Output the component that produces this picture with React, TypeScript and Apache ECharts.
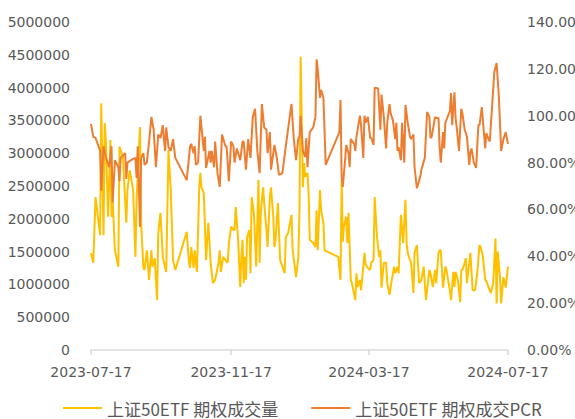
import React, { useEffect, useRef } from "react";
import * as echarts from "echarts";

// Dates are stored as day offsets from 2023-07-17 (the first date on the axis)
const startDate = [2023, 6, 17];
const axisEndDay = 366;
const xTickLabels = ["2023-07-17", "2023-11-17", "2024-03-17", "2024-07-17"];

const volumeName = "上证50ETF 期权成交量";
const pcrName = "上证50ETF 期权成交PCR";

const volDays = [0,2,4,8,9,11,12,13,15,17,18,19,21,24,25,28,31,32,34,37,39,40,43,44,46,47,49,51,53,54,56,58,59,61,63,66,68,70,72,74,84,86,87,88,90,91,93,95,96,97,99,101,103,105,107,109,112,113,114,116,118,120,121,123,125,126,127,129,131,132,133,134,135,136,137,139,140,141,143,145,147,148,149,151,153,154,155,157,158,160,161,162,164,166,168,170,171,173,176,177,180,182,183,184,186,187,188,190,191,192,195,197,198,199,201,202,204,205,217,219,220,221,222,224,225,226,228,229,232,233,234,236,237,239,240,241,243,245,246,248,249,251,253,254,255,257,259,260,262,263,264,266,267,269,270,271,272,274,276,277,278,280,281,283,284,286,288,290,292,294,297,298,300,302,303,305,306,307,309,311,312,313,315,316,318,319,320,322,324,325,326,328,329,330,333,334,335,337,339,341,342,344,346,347,348,350,351,353,355,356,357,359,360,362,363,364,366];
const volValues = [1480000,1330000,2330000,1750000,3760000,1750000,3460000,3200000,2030000,3200000,2030000,2290000,1520000,1270000,3100000,2940000,1940000,2440000,2740000,2440000,1420000,2290000,3400000,1940000,1250000,1220000,1520000,1070000,1520000,1270000,1400000,760000,1780000,2090000,1420000,1190000,3050000,2440000,1370000,1220000,1800000,1330000,1250000,1570000,1250000,1520000,1190000,2480000,2700000,2480000,2390000,1370000,1940000,1330000,1020000,1070000,1330000,1520000,1190000,1420000,1370000,1330000,1630000,1880000,1830000,1830000,2180000,1720000,960000,1420000,1680000,1020000,1420000,1070000,1720000,1830000,1170000,2330000,2090000,1270000,2590000,1330000,2090000,2480000,2030000,1830000,1570000,2330000,2480000,2030000,1570000,1680000,2240000,1370000,1270000,1170000,1720000,1780000,2060000,1520000,1110000,1420000,2130000,4470000,2480000,2850000,2640000,2700000,2390000,1680000,1630000,1570000,2130000,1520000,2440000,2130000,1940000,1520000,1420000,1070000,2590000,1650000,1880000,2030000,1630000,2090000,1070000,1020000,760000,1170000,960000,1070000,910000,1270000,1480000,1300000,1250000,1220000,1330000,1370000,2330000,1720000,1420000,1520000,950000,1330000,1330000,1020000,840000,960000,1070000,1270000,1170000,1270000,1170000,1630000,2060000,1630000,2290000,1630000,1480000,1370000,1330000,870000,1480000,1600000,1020000,1070000,1270000,760000,1220000,1170000,960000,1220000,1020000,1480000,1520000,1520000,950000,1270000,1220000,1110000,910000,760000,1190000,960000,1190000,1070000,730000,1220000,1220000,1330000,1400000,1020000,1480000,1190000,910000,910000,1170000,1600000,1570000,1420000,1070000,1050000,1000000,910000,870000,1020000,1700000,710000,1500000,1110000,710000,1110000,1040000,950000,1270000];

const pcrDays = [0,2,4,8,9,11,13,16,18,19,21,24,25,26,30,31,32,35,39,40,41,43,44,46,47,49,51,53,55,57,59,61,63,65,66,68,70,72,74,84,87,88,90,91,92,94,96,97,99,100,101,104,105,106,108,109,111,113,115,118,119,121,123,125,126,128,131,133,134,136,138,140,142,144,146,148,150,152,154,155,157,158,161,163,165,168,171,174,176,178,180,182,183,184,186,188,189,190,192,195,197,198,199,201,202,204,206,218,219,220,221,223,224,226,227,228,231,232,233,236,237,239,240,241,243,245,246,248,249,252,254,255,257,259,260,262,263,265,267,268,269,270,272,273,275,276,278,280,281,283,284,286,289,290,293,295,297,298,299,302,303,305,306,307,309,310,311,313,315,316,317,319,320,321,323,325,326,328,330,332,333,334,336,338,340,341,343,346,347,348,350,352,354,356,358,360,362,364,366];
const pcrValues = [96.5,91,90.5,85,68,87,82.4,78,87,63,81,78,72,82,84,73,80,81,82,73.4,87,52.5,82,84,79,80,89,99.5,94,78,92,90.5,96,85,95,86.6,85,90,82,72.5,87,88,84,87,79,80,100,95,85,91,77.7,85,80,85,78,89,75.5,69.6,92,87,87,72,89,87,80,86,81,89,89,77,90,82,99.5,103,85,75.5,105,95,94,84,93,77,87.5,82.4,74.7,75.5,87,98,105,90,81,90.5,91,100,85,82.4,90.5,78,93,95,99.5,124,120,107.6,111,107.6,79,93,106.7,74,69.6,81,87.5,84,78,90,88,85,91,100,96,82,100,97,99.5,90.5,90.5,87.5,112,111.6,94,109,99.5,86,97,105,101,98,90,97,85,86.6,81,97,80,104.6,97,91,90,92,78,69,74,77,82,101.6,99.5,90.5,91,99.5,99,99,86.6,80,93,86,97,99.5,102,109.7,96,110,99,95,85,103,101,94,91,79,84.5,86,80,77.7,96,96,103.7,86,92.6,91,89,103.7,118.7,122.5,108,85,90,93,88];

const DAY = 86400000;
const startTime = Date.UTC(startDate[0], startDate[1], startDate[2]);
const labelToDay = (s: string) => {
  const [y, m, d] = s.split("-").map(Number);
  return Math.round((Date.UTC(y, m - 1, d) - startTime) / DAY);
};
const pad = (n: number) => (n < 10 ? "0" + n : "" + n);
const dayToLabel = (day: number) => {
  const d = new Date(startTime + Math.round(day) * DAY);
  return `${d.getUTCFullYear()}-${pad(d.getUTCMonth() + 1)}-${pad(d.getUTCDate())}`;
};

export default function App() {
  const ref = useRef<HTMLDivElement>(null);
  useEffect(() => {
    if (!ref.current) return;
    const chart = echarts.init(ref.current, null, { renderer: "svg" });
    const tickDays = xTickLabels.map(labelToDay);
    const axisText = {
      color: "#595959",
      fontSize: 14,
      fontFamily: "DejaVu Sans",
    };
    chart.setOption({
      animation: false,
      backgroundColor: "#ffffff",
      grid: {
        left: 91,
        right: 67,
        top: 22,
        bottom: 69,
        containLabel: false,
        outerBoundsMode: "none",
      },
      legend: {
        left: 63,
        top: 398,
        padding: 0,
        itemGap: 33,
        itemWidth: 39,
        itemHeight: 2,
        icon: "rect",
        textStyle: {
          color: "#595959",
          fontSize: 17,
          lineHeight: 20,
          fontFamily: "Noto Sans CJK SC",
        },
        data: [volumeName, pcrName],
      },
      xAxis: {
        type: "value",
        min: 0,
        max: axisEndDay,
        axisLine: { show: true, lineStyle: { color: "#D9D9D9", width: 1.5 } },
        axisTick: {
          show: true,
          length: 5,
          customValues: tickDays,
          lineStyle: { color: "#D9D9D9", width: 1.5 },
        },
        splitLine: { show: false },
        axisLabel: {
          ...axisText,
          margin: 15,
          customValues: tickDays,
          formatter: (v: number) => dayToLabel(v),
        },
      },
      yAxis: [
        {
          type: "value",
          min: 0,
          max: 5000000,
          interval: 500000,
          axisLine: { show: false },
          axisTick: { show: false },
          splitLine: { show: false },
          axisLabel: {
            ...axisText,
            margin: 21,
            formatter: (v: number) => String(v),
          },
        },
        {
          type: "value",
          min: 0,
          max: 140,
          interval: 20,
          position: "right",
          axisLine: { show: false },
          axisTick: { show: false },
          splitLine: { show: false },
          axisLabel: {
            ...axisText,
            margin: 19,
            formatter: (v: number) => v.toFixed(2) + "%",
          },
        },
      ],
      series: [
        {
          name: volumeName,
          type: "line",
          yAxisIndex: 0,
          symbol: "none",
          color: "#FFC000",
          lineStyle: { color: "#FFC000", width: 2 },
          data: volDays.map((d, i) => [d, volValues[i]]),
          z: 2,
        },
        {
          name: pcrName,
          type: "line",
          yAxisIndex: 1,
          symbol: "none",
          color: "#ED7D31",
          lineStyle: { color: "#ED7D31", width: 2 },
          data: pcrDays.map((d, i) => [d, pcrValues[i]]),
          z: 3,
        },
      ],
    });
    return () => chart.dispose();
  }, []);
  return (
    <div
      ref={ref}
      style={{ position: "fixed", left: 0, top: 0, width: 575, height: 419 }}
    />
  );
}
